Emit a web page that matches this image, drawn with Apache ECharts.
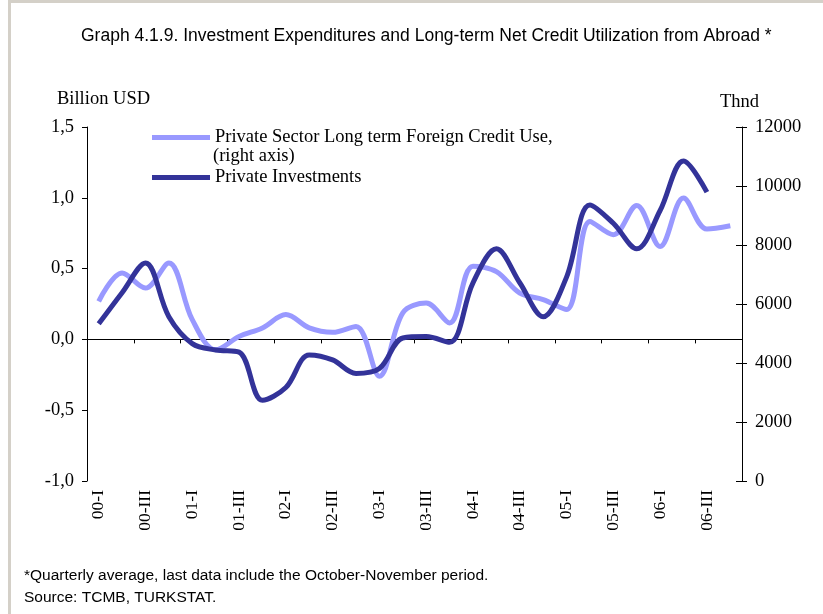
<!DOCTYPE html>
<html>
<head>
<meta charset="utf-8">
<script src="https://cdn.jsdelivr.net/npm/echarts@6/dist/echarts.min.js"></script>
<style>
  html, body { margin: 0; padding: 0; background: #fff; }
  #chart { width: 823px; height: 614px; }
</style>
</head>
<body>
<div id="chart"></div>
<script>
// quarters 2000-I .. 2006-IV
var quarters = ['00-I','00-II','00-III','00-IV','01-I','01-II','01-III','01-IV',
  '02-I','02-II','02-III','02-IV','03-I','03-II','03-III','03-IV',
  '04-I','04-II','04-III','04-IV','05-I','05-II','05-III','05-IV',
  '06-I','06-II','06-III','06-IV'];

// private sector long term foreign credit use, thousand (right axis)
var creditUse = [6090, 7050, 6540, 7390, 5470, 4450, 4900, 5190,
  5640, 5190, 5040, 5240, 3550, 5700, 6030, 5360,
  7280, 7100, 6370, 6150, 5810, 8800, 8350, 9340,
  7950, 9590, 8540, 8650];

// private investments, billion USD (left axis)
var investments = [0.11, 0.33, 0.54, 0.16, -0.03, -0.075, -0.09, -0.43,
  -0.34, -0.11, -0.145, -0.24, -0.205, 0.01, 0.02, -0.02,
  0.40, 0.64, 0.40, 0.16, 0.44, 0.95, 0.82, 0.64,
  0.91, 1.26, 1.04];

var nameCredit = 'Private Sector Long term Foreign Credit Use,';
var nameInv = 'Private Investments';

var serif = 'Liberation Serif';
var sans = 'Liberation Sans';

var chart = echarts.init(document.getElementById('chart'));

chart.setOption({
  animation: false,
  backgroundColor: '#fff',
  title: {
    text: 'Graph 4.1.9. Investment Expenditures and Long-term Net Credit Utilization from Abroad *',
    left: 76,
    top: 22,
    textStyle: { fontFamily: sans, fontSize: 17.5, fontWeight: 'normal', color: '#000' }
  },
  legend: [{
    data: [nameCredit],
    left: 152, top: 128, padding: 0,
    icon: 'rect', itemWidth: 58, itemHeight: 5,
    textStyle: { fontFamily: serif, fontSize: 18.5, color: '#000' }
  }, {
    data: [nameInv],
    left: 152, top: 168, padding: 0,
    icon: 'rect', itemWidth: 58, itemHeight: 5,
    textStyle: { fontFamily: serif, fontSize: 18.5, color: '#000' }
  }],
  graphic: [
    { type: 'rect', shape: { x: 9.5, y: 1.5, width: 900, height: 900 },
      style: { fill: 'none', stroke: '#d4d0c8', lineWidth: 3 } },
    { type: 'text', left: 213, top: 147,
      style: { text: '(right axis)', font: '18.5px "Liberation Serif"', fill: '#000' } },
    { type: 'text', left: 57, top: 90,
      style: { text: 'Billion USD', font: '18.5px "Liberation Serif"', fill: '#000' } },
    { type: 'text', left: 720, top: 93,
      style: { text: 'Thnd', font: '18.5px "Liberation Serif"', fill: '#000' } },
    { type: 'text', left: 24, top: 565,
      style: { text: '*Quarterly average, last data include the October-November period.\nSource: TCMB, TURKSTAT.',
        font: '15.5px "Liberation Sans"', fill: '#000', lineHeight: 22 } }
  ],
  grid: { left: 87, right: 81, top: 127, bottom: 133, containLabel: false },
  xAxis: [{
    type: 'category',
    data: quarters,
    position: 'bottom',
    axisLine: { show: false, onZero: false },
    axisTick: { show: false },
    axisLabel: { interval: 1, rotate: 90, margin: 9, fontFamily: serif, fontSize: 17.5, color: '#000' },
    splitLine: { show: false }
  }, {
    type: 'category',
    data: quarters,
    position: 'bottom',
    axisLine: { show: true, onZero: true, onZeroAxisIndex: 0, lineStyle: { color: '#000', width: 1 } },
    axisTick: { show: true, length: 4, lineStyle: { color: '#000' } },
    axisLabel: { show: false },
    splitLine: { show: false }
  }],
  yAxis: [{
    type: 'value',
    position: 'left',
    min: -1, max: 1.5, interval: 0.5,
    axisLine: { show: true, lineStyle: { color: '#000', width: 1 } },
    axisTick: { show: true, length: 5, lineStyle: { color: '#000' } },
    axisLabel: {
      margin: 13, fontFamily: serif, fontSize: 18.5, color: '#000',
      formatter: function (v) { return v.toFixed(1).replace('.', ','); }
    },
    splitLine: { show: false }
  }, {
    type: 'value',
    position: 'right',
    min: 0, max: 12000, interval: 2000,
    axisLine: { show: true, lineStyle: { color: '#000', width: 1 } },
    axisTick: { show: true, length: 5, lineStyle: { color: '#000' } },
    axisLabel: {
      margin: 13, fontFamily: serif, fontSize: 18.5, color: '#000',
      formatter: function (v) { return String(v); }
    },
    splitLine: { show: false }
  }, {
    // inner half of the crossing ticks on the right axis
    type: 'value',
    position: 'right',
    min: 0, max: 12000, interval: 2000,
    axisLine: { show: false },
    axisTick: { show: true, inside: true, length: 6, lineStyle: { color: '#000' } },
    axisLabel: { show: false },
    splitLine: { show: false }
  }],
  series: [{
    name: nameCredit,
    type: 'line',
    xAxisIndex: 0,
    yAxisIndex: 1,
    data: creditUse,
    smooth: 0.35,
    showSymbol: false,
    symbol: 'none',
    color: '#9999ff',
    lineStyle: { width: 5, color: '#9999ff' }
  }, {
    name: nameInv,
    type: 'line',
    xAxisIndex: 0,
    yAxisIndex: 0,
    data: investments,
    smooth: 0.35,
    showSymbol: false,
    symbol: 'none',
    color: '#333399',
    lineStyle: { width: 5, color: '#333399' }
  }]
});
</script>
</body>
</html>
